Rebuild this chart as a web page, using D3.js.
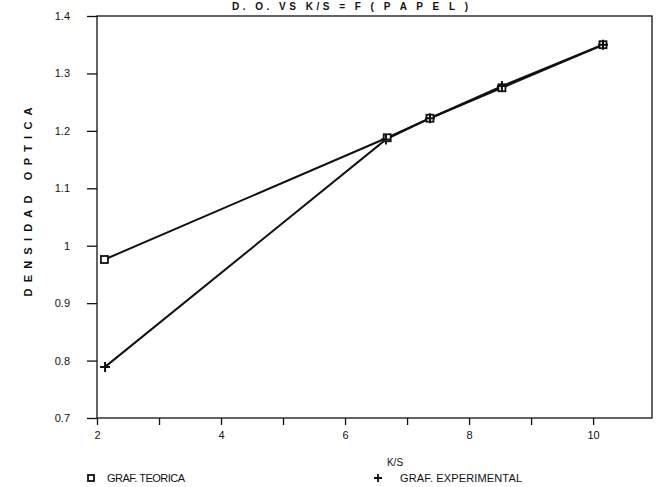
<!DOCTYPE html>
<html><head><meta charset="utf-8">
<script src="https://cdn.jsdelivr.net/npm/d3@7"></script>
<style>body{margin:0;background:#fff}svg{display:block}text{font-family:"Liberation Sans",Arial,sans-serif;fill:#111}</style>
</head><body>
<script>
const ksTeorica = [2.12, 6.68, 7.37, 8.53, 10.16];
const doTeorica = [0.976, 1.188, 1.222, 1.275, 1.350];
const ksExperimental = [2.13, 6.66, 7.37, 8.53, 10.16];
const doExperimental = [0.789, 1.185, 1.222, 1.278, 1.350];
const xTicks = [2, 3, 4, 5, 6, 7, 8, 9, 10];
const xTickLabels = ["2", "", "4", "", "6", "", "8", "", "10"];
const yTicks = [0.7, 0.8, 0.9, 1.0, 1.1, 1.2, 1.3, 1.4];
const yTickLabels = ["0.7", "0.8", "0.9", "1", "1.1", "1.2", "1.3", "1.4"];
const title = "D. O.  VS  K/S = F ( P A P E L )";
const xLabel = "K/S";
const yLabel = "DENSIDAD OPTICA";
const legendLabels = ["GRAF. TEORICA", "GRAF. EXPERIMENTAL"];

const W = 656, H = 487;
const L = 97, R = 652, T = 16, B = 418;
const svg = d3.select("body").append("svg").attr("width", W).attr("height", H);
const x = d3.scaleLinear().domain([2, 10.95]).range([L, R]);
const y = d3.scaleLinear().domain([0.7, 1.4]).range([B, T]);

// frame
svg.append("rect").attr("x", L).attr("y", T).attr("width", R - L).attr("height", B - T)
  .attr("fill", "none").attr("stroke", "#111").attr("stroke-width", 1.3);

// x axis
const xa = svg.append("g").attr("transform", `translate(0,${B})`)
  .call(d3.axisBottom(x).tickValues(xTicks).tickSize(7).tickPadding(6)
    .tickFormat((d, i) => xTickLabels[i]));
xa.select(".domain").remove();
xa.selectAll("line").attr("stroke", "#111").attr("stroke-width", 1.3);
xa.selectAll("text").attr("font-size", 11).attr("fill", "#111");

// y axis
const ya = svg.append("g").attr("transform", `translate(${L},0)`)
  .call(d3.axisLeft(y).tickValues(yTicks).tickSize(10).tickPadding(17)
    .tickFormat((d, i) => yTickLabels[i]));
ya.select(".domain").remove();
ya.selectAll("line").attr("stroke", "#111").attr("stroke-width", 1.3);
ya.selectAll("text").attr("font-size", 11).attr("fill", "#111");

// lines
const line = d3.line().x(d => x(d[0])).y(d => y(d[1]));
const teo = ksTeorica.map((k, i) => [k, doTeorica[i]]);
const exp = ksExperimental.map((k, i) => [k, doExperimental[i]]);
svg.append("path").datum(teo).attr("d", line).attr("fill", "none").attr("stroke", "#111").attr("stroke-width", 2);
svg.append("path").datum(exp).attr("d", line).attr("fill", "none").attr("stroke", "#111").attr("stroke-width", 2);

// markers
svg.selectAll(".sq").data(teo).enter().append("rect")
  .attr("x", d => x(d[0]) - 3.5).attr("y", d => y(d[1]) - 3.5)
  .attr("width", 7).attr("height", 7).attr("fill", "#fff").attr("stroke", "#111").attr("stroke-width", 1.8);
svg.selectAll(".pl").data(exp).enter().append("path")
  .attr("transform", d => `translate(${x(d[0])},${y(d[1])})`)
  .attr("d", "M-5,0H5M0,-5V5").attr("stroke", "#111").attr("stroke-width", 2);

// title
svg.append("text").attr("x", 350).attr("y", 10).attr("text-anchor", "middle")
  .attr("font-size", 10).attr("font-weight", "bold").attr("textLength", 236).text(title);

// axis labels
svg.append("text").attr("x", 395).attr("y", 466).attr("text-anchor", "middle")
  .attr("font-size", 10).text(xLabel);
svg.append("text").attr("transform", "translate(32,202) rotate(-90)").attr("text-anchor", "middle")
  .attr("font-size", 11).attr("font-weight", "bold").attr("textLength", 189).text(yLabel);

// legend
svg.append("rect").attr("x", 88).attr("y", 475).attr("width", 6).attr("height", 6)
  .attr("fill", "#fff").attr("stroke", "#111").attr("stroke-width", 1.8);
svg.append("text").attr("x", 107).attr("y", 482).attr("font-size", 11).attr("textLength", 78).text(legendLabels[0]);
svg.append("path").attr("transform", "translate(378,478)").attr("d", "M-4,0H4M0,-4V4").attr("stroke", "#111").attr("stroke-width", 1.8);
svg.append("text").attr("x", 400).attr("y", 482).attr("font-size", 11).attr("textLength", 122).text(legendLabels[1]);
</script>
</body></html>
